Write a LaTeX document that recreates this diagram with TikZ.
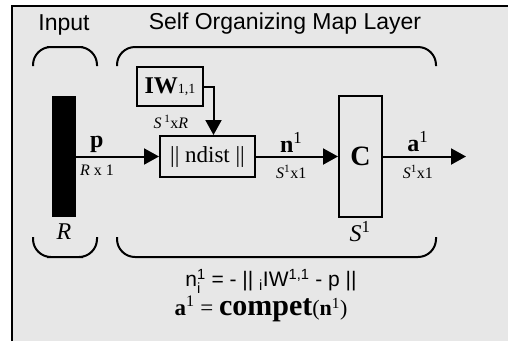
\documentclass[tikz,border=0pt]{standalone}
\usepackage{amsmath}
\usepackage{fontspec}
\setmainfont{Liberation Serif}
\setsansfont{Liberation Sans}
\usetikzlibrary{arrows.meta}
\definecolor{panelgray}{RGB}{231,231,231}
\newcommand\sz[1]{\fontsize{#1}{#1}\selectfont}

\begin{document}
\begin{tikzpicture}[x=1pt,y=-1pt,>={Triangle[length=15pt,width=16pt]},
  box/.style={draw,line width=2pt,inner sep=0pt},
  arr/.style={->,line width=2pt},
  brace/.style={line width=2pt,rounded corners=18pt},
  title/.style={font=\sffamily\sz{23}},
  dim/.style={font=\sz{16},yshift=-4pt}]
\useasboundingbox (0,0) rectangle (508,341);
\fill[panelgray] (12,6) rectangle (508,341);
\draw[line width=2.5pt] (12,341) -- (12,6) -- (508,6);
\node[title] (intitle) at (64,25) {Input};
\node[title] (somtitle) at (285,24) {Self Organizing Map Layer};
\draw[brace] (33,66) |- (65,47) -| (97,66);
\draw[brace] (117,66) |- (276,47) -| (436,66);
\draw[brace] (33,237) |- (65,257) -| (97,237);
\draw[brace] (117,237) |- (276,257) -| (436,237);
\node[fill=black,minimum width=24pt,minimum height=121pt,inner sep=0pt] (input) at (64,156.5) {};
\node[box,minimum width=66pt,minimum height=39pt,font=\sz{24}] (iw) at (170,86.5) {\textbf{IW}{\sz{14}1,1}};
\node[box,minimum width=95pt,minimum height=41pt,font=\sz{23}] (ndist) at (207.5,156.5) {|| ndist ||};
\node[box,minimum width=43pt,minimum height=121pt,font=\sz{28}\bfseries] (compet) at (360.5,156.5) {C};
\coordinate (out) at (466,156.5);
\node[font=\sz{16}] (iwdim) at (171,122) {\textit{S}\,\textsuperscript{1}x\textit{R}};
\node[font=\sz{24}\itshape] (rsize) at (64,232) {R};
\node[font=\sz{24}] (ssize) at (360,232) {\textit{S}\textsuperscript{1}};
\draw[arr] (iw.east) -| ([xshift=6pt]ndist.north);
\draw[arr] (input.east) -- node[pos=.25,above,font=\sz{24}\bfseries]{p}
  node[pos=.25,below,dim]{\textit{R} x 1} (ndist.west);
\draw[arr] (ndist.east) -- node[pos=.43,above,font=\sz{24}]{\textbf{n}\textsuperscript{1}}
  node[pos=.43,below,dim]{\textit{S}\textsuperscript{1}x1} (compet.west);
\draw[arr] (compet.east) -- node[pos=.42,above,font=\sz{24}]{\textbf{a}\textsuperscript{1}}
  node[pos=.42,below,dim]{\textit{S}\textsuperscript{1}x1} (out);
\node[font=\sffamily\sz{21},inner sep=0pt] (eqdist) at (271,281)
  {n$^{\text{1}}_{\text{i}}$ = - ||\ $_{\text{i}}$IW\textsuperscript{1,1} - p ||};
\node[font=\sz{23},inner sep=0pt] (eqcompet) at (261,309)
  {\textbf{a}\textsuperscript{1} = {\sz{30}\bfseries compet}{\sz{22}(\textbf{n}\textsuperscript{1})}};
\end{tikzpicture}
\end{document}
